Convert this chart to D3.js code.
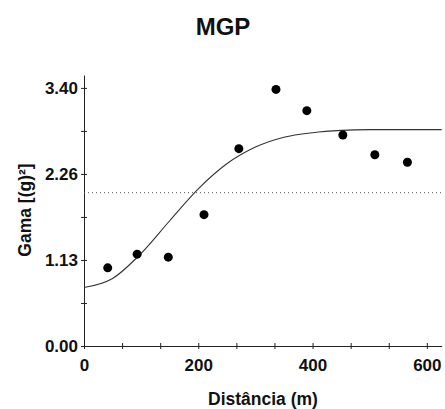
<!DOCTYPE html>
<html>
  <head>
    <title>MGP</title>
    <script src="https://d3js.org/d3.v7.min.js"></script>
    <style>
      body { margin: 0; background: #fff; }
      text { font-family: "Liberation Sans", Arial, sans-serif; font-weight: bold; fill: #111; }
    </style>
  </head>
  <body>
    <svg width="445" height="409" id="mainsvg"></svg>
    <script>
        // experimental semivariogram points (distance in m, gamma)
        const distances = [41.5, 93, 147.5, 210, 271, 336, 390, 453, 509, 566];
        const gammas = [1.03, 1.21, 1.17, 1.73, 2.60, 3.38, 3.10, 2.78, 2.52, 2.42];

        // fitted model curve
        const curveDist = [0, 50, 100, 150, 200, 250, 300, 350, 400, 450, 500, 550, 600, 626];
        const curveGamma = [0.77, 0.89, 1.22, 1.65, 2.07, 2.40, 2.62, 2.75, 2.81, 2.84, 2.85, 2.85, 2.85, 2.85];

        const sampleVariance = 2.02;

        const yTickValues = [0, 0.5667, 1.1333, 1.7, 2.2667, 2.8333, 3.4];
        const yTickLabels = ['0.00', '', '1.13', '', '2.26', '', '3.40'];
        const xTickValues = [0, 66.67, 133.33, 200, 266.67, 333.33, 400, 466.67, 533.33, 600];
        const xTickLabels = ['0', '', '', '200', '', '', '400', '', '', '600'];

        const svg = d3.select('#mainsvg');

        const xScale = d3.scaleLinear().domain([0, 626]).range([84, 441.7]);
        const yScale = d3.scaleLinear().domain([0, 3.57]).range([346, 75]);

        // x axis
        const xAxis = d3.axisBottom(xScale)
          .tickValues(xTickValues)
          .tickFormat((d, i) => xTickLabels[i])
          .tickSizeInner(3).tickSizeOuter(0).tickPadding(10);
        const gx = svg.append('g').attr('transform', `translate(0, ${yScale(0)})`).call(xAxis);
        gx.select('.domain').attr('stroke', '#222');
        gx.selectAll('.tick line').attr('stroke', '#222').attr('y1', -3);
        gx.selectAll('.tick text').attr('font-size', '17px').attr('fill', '#111');

        // y axis
        const yAxis = d3.axisLeft(yScale)
          .tickValues(yTickValues)
          .tickFormat((d, i) => yTickLabels[i])
          .tickSizeInner(3).tickSizeOuter(0).tickPadding(3);
        const gy = svg.append('g').attr('transform', `translate(${xScale(0)}, 0)`).call(yAxis);
        gy.select('.domain').attr('stroke', '#222');
        gy.selectAll('.tick line').attr('stroke', '#222').attr('x1', 3);
        gy.selectAll('.tick text').attr('font-size', '17px').attr('fill', '#111');

        // sample variance (dotted)
        svg.append('line')
          .attr('x1', xScale(0)).attr('x2', xScale(626))
          .attr('y1', yScale(sampleVariance)).attr('y2', yScale(sampleVariance))
          .attr('stroke', '#555').attr('stroke-width', 1)
          .attr('stroke-dasharray', '1,3');

        // model curve
        const line = d3.line()
          .x((d, i) => xScale(curveDist[i]))
          .y(d => yScale(d))
          .curve(d3.curveMonotoneX);
        svg.append('path')
          .datum(curveGamma)
          .attr('d', line)
          .attr('fill', 'none').attr('stroke', '#333').attr('stroke-width', 1.1);

        // points
        svg.selectAll('.pt').data(gammas).join('circle')
          .attr('class', 'pt')
          .attr('cx', (d, i) => xScale(distances[i]))
          .attr('cy', d => yScale(d))
          .attr('r', 4.5)
          .attr('fill', '#000');

        // titles
        svg.append('text').text('MGP')
          .attr('x', 223).attr('y', 35)
          .attr('text-anchor', 'middle').attr('font-size', '24px');

        svg.append('text').text('Distância (m)')
          .attr('x', 263).attr('y', 405)
          .attr('text-anchor', 'middle').attr('font-size', '17.5px');

        svg.append('text').text('Gama [(g)²]')
          .attr('transform', `translate(31, 210) rotate(-90)`)
          .attr('text-anchor', 'middle').attr('font-size', '17.5px');
    </script>
  </body>
</html>
